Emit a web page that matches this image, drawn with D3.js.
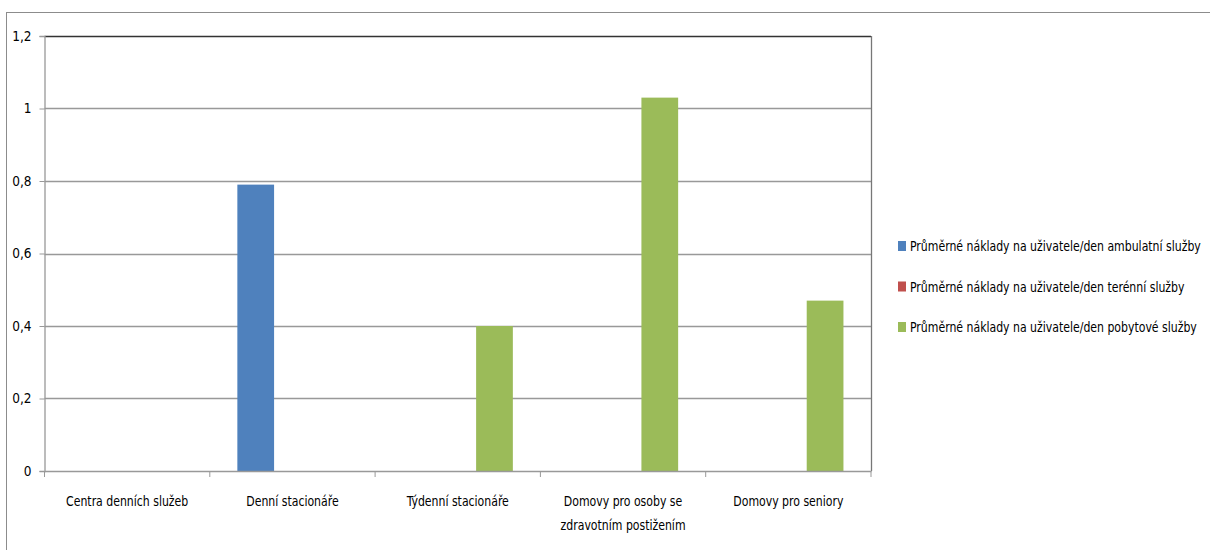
<!DOCTYPE html>
<html><head><meta charset="utf-8">
<script src="https://cdn.jsdelivr.net/npm/d3@7"></script>
<style>body{margin:0;background:#fff}text{font-family:"DejaVu Sans Condensed","Open Sans",sans-serif;fill:#000}</style>
</head><body><svg id="c" width="1210" height="550"></svg>
<script>
const categories = ["Centra denních služeb","Denní stacionáře","Týdenní stacionáře","Domovy pro osoby se zdravotním postižením","Domovy pro seniory"];
const categoryLines = [["Centra denních služeb"],["Denní stacionáře"],["Týdenní stacionáře"],["Domovy pro osoby se","zdravotním postižením"],["Domovy pro seniory"]];
const seriesNames = ["Průměrné náklady na uživatele/den ambulatní služby","Průměrné náklady na uživatele/den terénní služby","Průměrné náklady na uživatele/den pobytové služby"];
const ambulantni = [0, 0.79, 0, 0, 0];
const terenni = [0, 0, 0, 0, 0];
const pobytove = [0, 0, 0.40, 1.03, 0.47];
const yTicks = [0, 0.2, 0.4, 0.6, 0.8, 1, 1.2];
const yTickLabels = ["0","0,2","0,4","0,6","0,8","1","1,2"];
const colors = ["#4F81BD","#C0504D","#9BBB59"];
const seriesValues = [ambulantni, terenni, pobytove];

const svg = d3.select("#c");
const L = 44.5, R = 871, T = 36, B = 471;
svg.append("rect").attr("x",6.5).attr("y",12.5).attr("width",1220).attr("height",560).attr("fill","none").attr("stroke","#8c8c8c");

const x0 = d3.scaleBand().domain(categories).range([L,R]).padding(0);
const bw = x0.bandwidth()/4.5;
const x1 = d3.scaleBand().domain([0,1,2]).range([0, bw*3]);
const y = d3.scaleLinear().domain([0,1.2]).range([B,T]);

svg.append("g").selectAll("line").data(yTicks.slice(1)).join("line")
  .attr("x1",L).attr("x2",R).attr("y1",d=>Math.round(y(d))+0.5).attr("y2",d=>Math.round(y(d))+0.5)
  .attr("stroke",(d)=>d===1.2?"#333":"#999").attr("stroke-width",1.3);

const data = [];
categories.forEach((c,i)=>seriesValues.forEach((s,j)=>data.push({c,j,v:s[i]})));
svg.append("g").selectAll("rect").data(data.filter(d=>d.v>0)).join("rect")
  .attr("x",d=>x0(d.c)+(x0.bandwidth()-bw*3)/2+x1(d.j))
  .attr("width",x1.bandwidth())
  .attr("y",d=>y(d.v)).attr("height",d=>y(0)-y(d.v))
  .attr("fill",d=>colors[d.j]);

svg.append("line").attr("x1",R+0.5).attr("x2",R+0.5).attr("y1",T).attr("y2",B).attr("stroke","#777").attr("stroke-width",1.3);

const ya = svg.append("g").attr("transform",`translate(${L},0)`)
  .call(d3.axisLeft(y).tickValues(yTicks).tickFormat((d,i)=>yTickLabels[i]).tickSize(5).tickPadding(8));
ya.select(".domain").attr("stroke","#999").attr("stroke-width",1.3);
ya.selectAll(".tick line").attr("stroke","#999");
ya.selectAll("text").attr("font-size",13.5).style("font-family",'"DejaVu Sans Condensed",sans-serif').attr("fill","#000");

const xa = svg.append("g").attr("transform",`translate(0,${B})`)
  .call(d3.axisBottom(x0).tickSize(0).tickFormat(""));
xa.select(".domain").attr("stroke","#999").attr("stroke-width",1.3);
const bounds = categories.map(c=>x0(c)).concat([R]);
svg.append("g").selectAll("line").data(bounds).join("line")
  .attr("x1",d=>d).attr("x2",d=>d).attr("y1",B).attr("y2",B+6).attr("stroke","#999");
const lbl = svg.append("g").selectAll("text").data(categories).join("text")
  .attr("transform",d=>`translate(${x0(d)+x0.bandwidth()/2},506) scale(0.9,1)`)
  .attr("text-anchor","middle").attr("font-size",13.5);
lbl.each(function(d,i){
  const t=d3.select(this);
  categoryLines[i].forEach((ln,k)=>t.append("tspan").attr("x",0).attr("dy",k?24:0).text(ln));
});

const lg = svg.append("g").selectAll("g").data(seriesNames).join("g")
  .attr("transform",(d,i)=>`translate(898,${246+i*40.5})`);
lg.append("rect").attr("x",0).attr("y",-5).attr("width",8).attr("height",10).attr("fill",(d,i)=>colors[i]);
lg.append("text").attr("transform","translate(12,5) scale(0.9,1)").attr("font-size",13.5).text(d=>d);
</script></body></html>
